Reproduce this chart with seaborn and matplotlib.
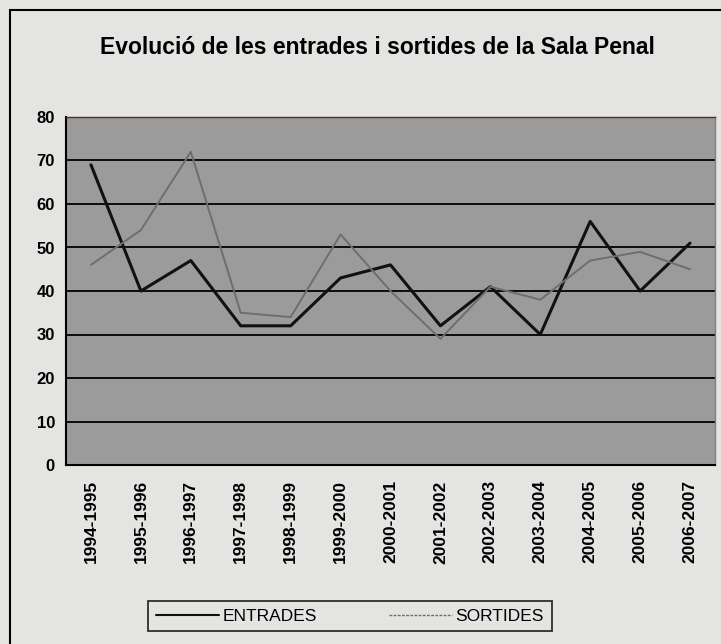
"""
Evolució de les entrades i sortides de la Sala Penal
"""
import pandas as pd
import numpy as np
import matplotlib.pyplot as plt
from matplotlib.patches import Rectangle
from matplotlib.ticker import FixedLocator
import seaborn as sns

# Data
cursos = ['1994-1995', '1995-1996', '1996-1997', '1997-1998', '1998-1999',
          '1999-2000', '2000-2001', '2001-2002', '2002-2003', '2003-2004',
          '2004-2005', '2005-2006', '2006-2007']
entrades = [69, 40, 47, 32, 32, 43, 46, 32, 41, 30, 56, 40, 51]
sortides = [46, 54, 72, 35, 34, 53, 40, 29, 41, 38, 47, 49, 45]
y_ticks = [0, 10, 20, 30, 40, 50, 60, 70, 80]

df = pd.DataFrame({
    'curs': cursos * 2,
    'pos': list(range(len(cursos))) * 2,
    'valor': entrades + sortides,
    'serie': ['ENTRADES'] * len(cursos) + ['SORTIDES'] * len(cursos),
})

sns.set_style('white')
plt.rcParams['font.family'] = ['Liberation Sans', 'DejaVu Sans']
plt.rcParams['text.color'] = 'black'
plt.rcParams['xtick.color'] = 'black'
plt.rcParams['ytick.color'] = 'black'

fig = plt.figure(figsize=(7.21, 6.44), dpi=100)
fig.patch.set_facecolor('#e4e4e2')
ax = fig.add_axes([66 / 721, 1 - 465 / 644, 649 / 721, 348 / 644])

# outer chart border
fig.patches.append(Rectangle((10 / 721, -0.01), 1.0, 1 - 10 / 644 + 0.01,
                             transform=fig.transFigure, fill=False,
                             edgecolor='black', linewidth=1.5))

ax.set_facecolor('#9b9b9b')
ax.set_axisbelow(True)
ax.grid(axis='y', color='black', linewidth=1.3)

sns.lineplot(data=df, x='pos', y='valor', hue='serie', sort=False,
             palette={'ENTRADES': '#111111', 'SORTIDES': '#6e6e6e'},
             ax=ax, legend=False)
lines = ax.get_lines()
lines[0].set_linewidth(2.2)
lines[1].set_linewidth(1.4)

ax.set_xlim(-0.5, len(cursos) - 0.5)
ax.set_ylim(0, 80)
ax.set_yticks(y_ticks)
ax.set_xticks(range(len(cursos)))
ax.set_xticklabels(cursos, rotation=90, fontsize=12.5, fontweight='bold')
ax.xaxis.set_minor_locator(FixedLocator(np.arange(-0.5, len(cursos), 1.0)))
ax.tick_params(axis='x', which='major', length=0, pad=11)
ax.tick_params(axis='x', which='minor', length=5, width=1.3, color='black', direction='out')
ax.tick_params(axis='y', length=5, width=1.3, color='black', direction='out',
               labelsize=12, pad=3)
for lbl in ax.get_yticklabels():
    lbl.set_fontweight('bold')
ax.set_xlabel('')
ax.set_ylabel('')

for side in ['left', 'bottom']:
    ax.spines[side].set_color('black')
    ax.spines[side].set_linewidth(1.5)
ax.spines['top'].set_color('#5a2a2a')
ax.spines['top'].set_linewidth(1.0)
ax.spines['right'].set_color('#808080')
ax.spines['right'].set_linewidth(1.0)

fig.text(0.523, 1 - 47 / 644, 'Evolució de les entrades i sortides de la Sala Penal',
         ha='center', va='center', fontsize=16.5, fontweight='bold')

leg = fig.legend(handles=[lines[0], lines[1]], labels=['ENTRADES', 'SORTIDES'],
                 loc='center', bbox_to_anchor=(350 / 721, 1 - 616 / 644), ncol=2,
                 frameon=True, fancybox=False, fontsize=12.5, handlelength=3.6,
                 columnspacing=4.2, borderpad=0.45, borderaxespad=0,
                 handletextpad=0.2)
leg.get_frame().set_edgecolor('black')
leg.get_frame().set_linewidth(1.3)
leg.get_frame().set_facecolor('#e4e4e2')
leg.legend_handles[0].set_linewidth(1.5)
leg.legend_handles[1].set_linewidth(1.0)
leg.legend_handles[1].set_linestyle((0, (2, 1)))

plt.savefig('out.png', dpi=100, facecolor=fig.get_facecolor())
